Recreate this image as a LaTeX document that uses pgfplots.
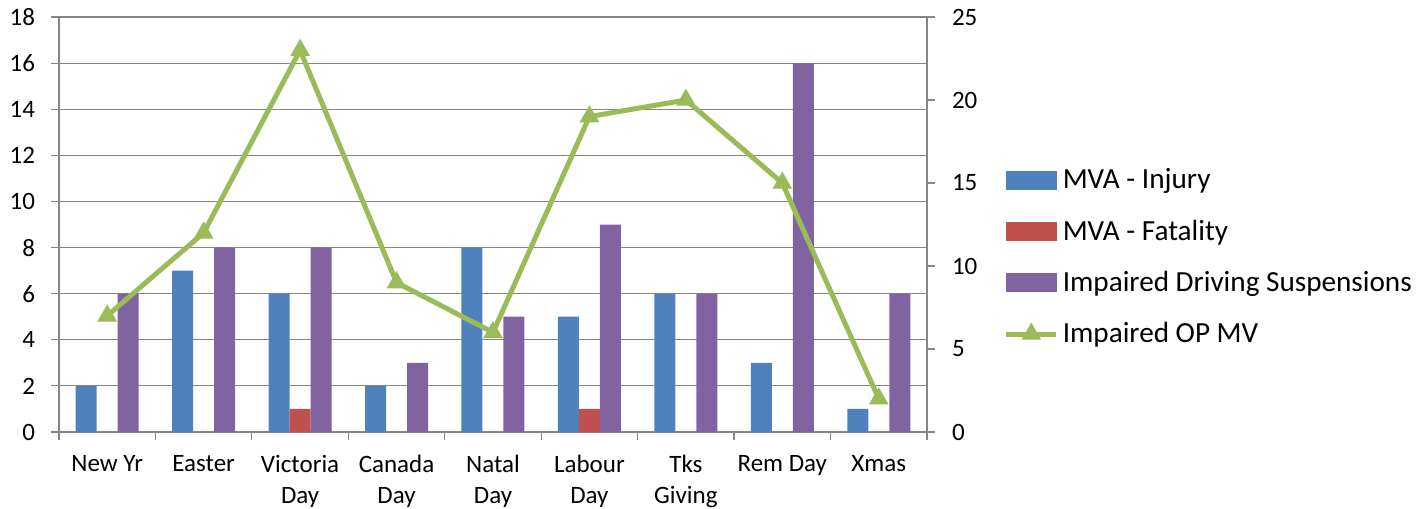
\documentclass[border=0pt]{standalone}
\usepackage{fontspec}
\setmainfont{Carlito}
\usepackage{pgfplots}
\pgfplotsset{compat=1.18}
\definecolor{injblue}{HTML}{4F81BD}
\definecolor{fatred}{HTML}{C0504D}
\definecolor{susppurple}{HTML}{8064A2}
\definecolor{opgreen}{HTML}{9BBB59}
\definecolor{axgray}{HTML}{868686}

\pgfplotsset{
  common/.style={
    scale only axis, width=434pt, height=207.5pt,
    xmin=-0.5, xmax=8.5,
    ymin=0,
    /pgf/number format/assume math mode=true,
    tick align=outside,
    major tick length=4pt,
    every tick/.style={axgray, line width=0.6pt},
    axis line style={axgray, line width=0.6pt},
    ticklabel style={font=\fontsize{12.5}{14}\selectfont},
  },
  linelegend/.style={legend image code/.code={%
    \draw[mark repeat=2, mark phase=2, ##1] plot coordinates {(0pt,0pt) (12.5pt,0pt) (25pt,0pt)};}},
  boxlegend/.style={legend image code/.code={\fill[#1] (0pt,-4.5pt) rectangle (25pt,4.5pt);}},
}

\begin{document}
\begin{tikzpicture}
\useasboundingbox (-29.5pt,-38.5pt) rectangle (683.5pt,216pt);
\begin{axis}[
  common,
  ymax=18, ytick={0,2,...,18},
  axis x line*=bottom, axis y line*=left,
  ymajorgrids, grid style={axgray, line width=0.6pt},
  yticklabel style={xshift=-4.5pt},
  xtick={0,...,8},
  major x tick style={draw=none},
  minor xtick={-0.5,0.5,...,8.5},
  minor tick length=4pt,
  xticklabels={New Yr, Easter, {Victoria\\Day}, {Canada\\Day}, {Natal\\Day}, {Labour\\Day}, {Tks\\Giving}, Rem Day, Xmas},
  xticklabel style={align=center, font=\fontsize{12.5}{15.5}\selectfont, yshift=-4pt},
]
\addplot[ybar, bar width=10.5pt, bar shift=-10.5pt, fill=injblue, draw=none]
  coordinates {(0,2) (1,7) (2,6) (3,2) (4,8) (5,5) (6,6) (7,3) (8,1)};
\addplot[ybar, bar width=10.5pt, bar shift=0pt, fill=fatred, draw=none]
  coordinates {(0,0) (1,0) (2,1) (3,0) (4,0) (5,1) (6,0) (7,0) (8,0)};
\addplot[ybar, bar width=10.5pt, bar shift=10.5pt, fill=susppurple, draw=none]
  coordinates {(0,6) (1,8) (2,8) (3,3) (4,5) (5,9) (6,6) (7,16) (8,6)};
\end{axis}
\begin{axis}[
  common,
  ymax=25, ytick={0,5,...,25},
  axis x line=none, axis y line*=right,
  yticklabel style={xshift=5pt},
  legend style={at={(rel axis cs:1.088,0.645)}, anchor=north west,
    draw=none, fill=none, inner sep=0pt,
    font=\fontsize{14.6}{16}\selectfont, row sep=10pt},
  legend cell align=left,
]
\addlegendimage{boxlegend=injblue}
\addlegendentry{MVA - Injury}
\addlegendimage{boxlegend=fatred}
\addlegendentry{MVA - Fatality}
\addlegendimage{boxlegend=susppurple}
\addlegendentry{Impaired Driving Suspensions}
\addplot[color=opgreen, line width=2.5pt, mark=triangle*, mark size=5.2pt,
  mark options={solid, line width=0.5pt}, linelegend]
  coordinates {(0,7) (1,12) (2,23) (3,9) (4,6) (5,19) (6,20) (7,15) (8,2)};
\addlegendentry{Impaired OP MV}
\end{axis}
\end{tikzpicture}
\end{document}
